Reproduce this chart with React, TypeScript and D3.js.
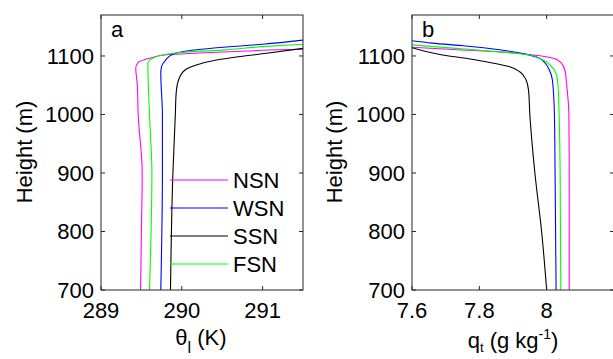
import React from 'react';
import * as d3 from 'd3';

// [height (m), value] pairs
const heightTicks = [700, 800, 900, 1000, 1100];
const thetaTicks = [289, 290, 291];
const qtTicks = [7.6, 7.8, 8];

const thetaNSN = [[700, 289.49], [800, 289.5], [900, 289.51], [1000, 289.46], [1050, 289.45], [1079, 289.43], [1089, 289.46], [1096, 289.6], [1102, 289.81], [1105, 290.22], [1108.5, 290.8], [1110.5, 291.2], [1111.5, 291.5]];
const thetaWSN = [[700, 289.74], [900, 289.76], [1000, 289.76], [1070, 289.74], [1082, 289.75], [1093, 289.8], [1103, 289.89], [1108.5, 290.06], [1114, 290.43], [1120, 291.0], [1127, 291.5]];
const thetaSSN = [[700, 289.86], [900, 289.89], [1000, 289.92], [1036, 289.93], [1059, 289.96], [1076, 290.04], [1084.6, 290.18], [1093, 290.43], [1099, 290.72], [1104.6, 291.05], [1113, 291.5]];
const thetaFSN = [[700, 289.6], [900, 289.63], [1000, 289.6], [1087.5, 289.58], [1099, 289.69], [1104.6, 289.9], [1107, 290.1], [1110, 290.5], [1116, 291.0], [1120, 291.5]];

const qtNSN = [[700, 8.067], [900, 8.067], [1000, 8.066], [1053, 8.059], [1076, 8.054], [1087.5, 8.044], [1096, 8.02], [1101.7, 7.96], [1107, 7.86], [1111.5, 7.71], [1115, 7.6]];
const qtWSN = [[700, 8.028], [900, 8.025], [1000, 8.023], [1059, 8.017], [1076, 8.008], [1088, 7.995], [1097, 7.975], [1104, 7.93], [1110.5, 7.86], [1117, 7.76], [1122, 7.66], [1126, 7.6]];
const qtSSN = [[700, 8.0], [800, 7.985], [900, 7.965], [1000, 7.95], [1042, 7.946], [1059, 7.939], [1073, 7.92], [1081.7, 7.89], [1090, 7.82], [1096, 7.76], [1101.7, 7.69], [1114, 7.6]];
const qtFSN = [[700, 8.042], [900, 8.04], [1000, 8.037], [1047.6, 8.034], [1070, 8.028], [1084.6, 8.01], [1093, 7.99], [1101.7, 7.95], [1107, 7.86], [1113, 7.73], [1119, 7.6]];

const seriesNames = ['NSN', 'WSN', 'SSN', 'FSN'];
const seriesColors = ['#ff00ff', '#0000ff', '#000000', '#00ff00'];

const FONT = '"Liberation Sans", Arial, sans-serif';
const AX = '#262626';
const FS = 22;

const top = 15;
const bottom = 290;

const Panel = ({ id, left, right, domain, ticks, series, tag, tickFmt }) => {
  const x = d3.scaleLinear().domain(domain).range([left, right]);
  const y = d3.scaleLinear().domain([700, 1170]).range([bottom, top]);
  const line = d3
    .line()
    .x(d => x(d[1]))
    .y(d => y(d[0]))
    .curve(d3.curveMonotoneY);
  const tl = 4;
  return (
    <g>
      <defs>
        <clipPath id={id}>
          <rect x={left} y={top} width={right - left} height={bottom - top} />
        </clipPath>
      </defs>
      <g clipPath={`url(#${id})`}>
        {series.map((s, i) => (
          <path key={i} d={line(s)} fill="none" stroke={seriesColors[i]} strokeWidth={1.1} />
        ))}
      </g>
      <rect x={left} y={top} width={right - left} height={bottom - top} fill="none" stroke={AX} strokeWidth={1} />
      {heightTicks.map(t => (
        <g key={t}>
          <line x1={left} x2={left + tl} y1={y(t)} y2={y(t)} stroke={AX} />
          <line x1={right} x2={right - tl} y1={y(t)} y2={y(t)} stroke={AX} />
          <text x={left - 7} y={y(t)} dy="0.36em" textAnchor="end" fontSize={FS} fontFamily={FONT} fill="#000">
            {t}
          </text>
        </g>
      ))}
      {ticks.map(t => (
        <g key={t}>
          <line x1={x(t)} x2={x(t)} y1={bottom} y2={bottom - tl} stroke={AX} />
          <line x1={x(t)} x2={x(t)} y1={top} y2={top + tl} stroke={AX} />
          <text x={x(t)} y={318} textAnchor="middle" fontSize={FS} fontFamily={FONT} fill="#000">
            {tickFmt(t)}
          </text>
        </g>
      ))}
      <text x={left + 10} y={37} fontSize={FS} fontFamily={FONT} fill="#000">
        {tag}
      </text>
    </g>
  );
};

export default function App() {
  return (
    <svg width={613} height={359} style={{ position: 'absolute', left: 0, top: 0, background: '#fff' }}>
      <rect width={613} height={359} fill="#fff" />
      <Panel
        id="clipA"
        left={101}
        right={303}
        domain={[289, 291.5]}
        ticks={thetaTicks}
        series={[thetaNSN, thetaWSN, thetaSSN, thetaFSN]}
        tag="a"
        tickFmt={d3.format('d')}
      />
      <Panel
        id="clipB"
        left={412}
        right={614}
        domain={[7.6, 8.2]}
        ticks={qtTicks}
        series={[qtNSN, qtWSN, qtSSN, qtFSN]}
        tag="b"
        tickFmt={t => String(t)}
      />
      {/* legend */}
      {seriesNames.map((n, i) => (
        <g key={n}>
          <line x1={170} x2={228} y1={180 + i * 28} y2={180 + i * 28} stroke={seriesColors[i]} strokeWidth={1.1} />
          <text x={233} y={180 + i * 28} dy="0.36em" fontSize={FS} fontFamily={FONT} fill="#000">
            {n}
          </text>
        </g>
      ))}
      {/* axis labels */}
      <text x={201} y={345} textAnchor="middle" fontSize={FS} fontFamily={FONT} fill="#000">
        θ<tspan fontSize={16} dy={8}>l</tspan>
        <tspan dy={-8}> (K)</tspan>
      </text>
      <text x={513} y={348} textAnchor="middle" fontSize={FS} fontFamily={FONT} fill="#000">
        q<tspan fontSize={13} dy={4}>t</tspan>
        <tspan dy={-4}> (g kg</tspan>
        <tspan fontSize={14} dy={-9}>-1</tspan>
        <tspan dy={9}>)</tspan>
      </text>
      <text transform="translate(32,152) rotate(-90)" textAnchor="middle" fontSize={FS} fontFamily={FONT} fill="#000">
        Height (m)
      </text>
      <text transform="translate(342,152) rotate(-90)" textAnchor="middle" fontSize={FS} fontFamily={FONT} fill="#000">
        Height (m)
      </text>
    </svg>
  );
}
